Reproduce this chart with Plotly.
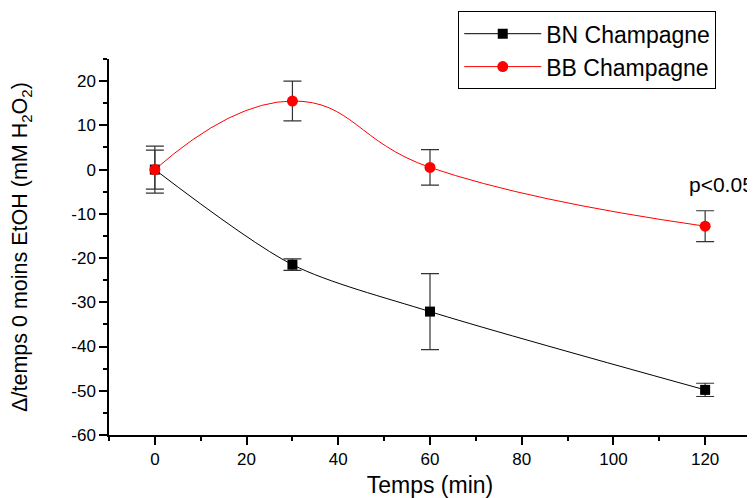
import plotly.graph_objects as go

# Data
time_min = [0, 30, 60, 120]
bn_values = [0, -21.5, -32.1, -49.8]
bn_errors = [5.3, 1.3, 8.6, 1.5]
bb_values = [0, 15.5, 0.5, -12.8]
bb_errors = [4.4, 4.5, 4.0, 3.5]
series_names = ["BN Champagne", "BB Champagne"]
x_tickvals = [0, 20, 40, 60, 80, 100, 120]
x_ticktext = ["0", "20", "40", "60", "80", "100", "120"]
y_tickvals = [-60, -50, -40, -30, -20, -10, 0, 10, 20]
y_ticktext = ["-60", "-50", "-40", "-30", "-20", "-10", "0", "10", "20"]
annotation_text = "p<0.05"

FONT = "Arial, Liberation Sans, sans-serif"

fig = go.Figure()

fig.add_trace(go.Scatter(
    x=time_min, y=bn_values, name=series_names[0],
    mode="lines+markers",
    line=dict(color="black", width=1, shape="spline", smoothing=0.8),
    marker=dict(symbol="square", size=10, color="black"),
    error_y=dict(type="data", array=bn_errors, visible=True,
                 color="#333333", thickness=1.2, width=9),
))
fig.add_trace(go.Scatter(
    x=time_min, y=bb_values, name=series_names[1],
    mode="lines+markers",
    line=dict(color="#ff0000", width=1, shape="spline", smoothing=1.3),
    marker=dict(symbol="circle", size=11, color="#ff0000"),
    error_y=dict(type="data", array=bb_errors, visible=True,
                 color="#333333", thickness=1.2, width=9),
))

fig.add_annotation(x=123.6, y=-3.3, text=annotation_text, showarrow=False,
                   font=dict(family=FONT, size=21, color="black"))

axis_common = dict(
    showline=True, linecolor="black", linewidth=1.5,
    ticks="outside", ticklen=8, tickwidth=1.5, tickcolor="black",
    showgrid=False, zeroline=False, mirror=False, automargin=False,
    tickfont=dict(family=FONT, size=17, color="black"),
)

fig.update_xaxes(
    range=[-10, 130], tickmode="array", tickvals=x_tickvals, ticktext=x_ticktext,
    minor=dict(dtick=10, tick0=0, ticks="outside", ticklen=4, tickcolor="black", tickwidth=1.5),
    title=dict(text="Temps (min)", font=dict(family=FONT, size=23, color="black"), standoff=13),
    **axis_common,
)
fig.update_yaxes(
    range=[-60, 25], tickmode="array", tickvals=y_tickvals, ticktext=y_ticktext,
    minor=dict(dtick=5, tick0=0, ticks="outside", ticklen=4, tickcolor="black", tickwidth=1.5),
    title=dict(text="Δ/temps 0 moins EtOH (mM H<sub>2</sub>O<sub>2</sub>)",
               font=dict(family=FONT, size=21.5, color="black"), standoff=38),
    **axis_common,
)

# The page has an 8 px body margin, so the figure is drawn 8 px smaller and offset.
fig.update_layout(
    width=747, height=490,
    margin=dict(l=101, r=4, t=50, b=63),
    plot_bgcolor="white", paper_bgcolor="white",
    font=dict(family=FONT, color="black"),
    legend=dict(
        x=0.544, y=1.124, xanchor="left", yanchor="top",
        bordercolor="black", borderwidth=1, bgcolor="white",
        font=dict(family=FONT, size=23, color="black"),
        itemwidth=77, tracegroupgap=0,
    ),
)

fig.write_html("out.html")
